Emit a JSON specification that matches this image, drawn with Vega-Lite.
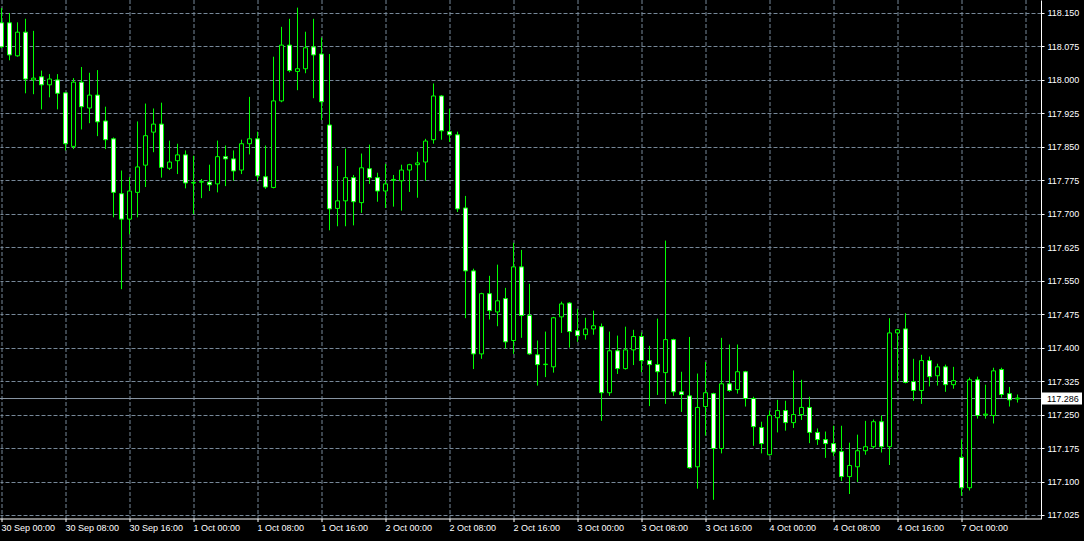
{
"$schema": "https://vega.github.io/schema/vega-lite/v6.json",
"width": 1041,
"height": 519,
"autosize": {"type": "none"},
"padding": {"left": 0, "top": 0, "right": 43, "bottom": 22},
"background": "#000000",
"config": {"view": {"stroke": null}, "font": "Liberation Sans", "scale": {"continuousPadding": 0}},
"datasets": {
"bars": [
{"i":0,"o":118.128,"h":118.161,"l":118.072,"c":118.074},
{"i":1,"o":118.128,"h":118.150,"l":118.044,"c":118.056},
{"i":2,"o":118.054,"h":118.129,"l":118.052,"c":118.107},
{"i":3,"o":118.107,"h":118.137,"l":117.970,"c":118.002},
{"i":4,"o":118.000,"h":118.110,"l":117.968,"c":118.004},
{"i":5,"o":118.007,"h":118.021,"l":117.934,"c":117.989},
{"i":6,"o":117.989,"h":118.013,"l":117.961,"c":118.002},
{"i":7,"o":118.000,"h":118.013,"l":117.934,"c":117.970},
{"i":8,"o":117.971,"h":117.972,"l":117.842,"c":117.857},
{"i":9,"o":117.851,"h":118.004,"l":117.845,"c":117.995},
{"i":10,"o":117.995,"h":118.029,"l":117.889,"c":117.940},
{"i":11,"o":117.937,"h":118.016,"l":117.903,"c":117.966},
{"i":12,"o":117.966,"h":118.022,"l":117.874,"c":117.906},
{"i":13,"o":117.908,"h":117.940,"l":117.845,"c":117.866},
{"i":14,"o":117.868,"h":117.871,"l":117.692,"c":117.748},
{"i":15,"o":117.745,"h":117.797,"l":117.531,"c":117.688},
{"i":16,"o":117.688,"h":117.782,"l":117.654,"c":117.751},
{"i":17,"o":117.748,"h":117.907,"l":117.692,"c":117.805},
{"i":18,"o":117.809,"h":117.947,"l":117.760,"c":117.875},
{"i":19,"o":117.883,"h":117.936,"l":117.838,"c":117.901},
{"i":20,"o":117.901,"h":117.949,"l":117.781,"c":117.804},
{"i":21,"o":117.802,"h":117.864,"l":117.798,"c":117.816},
{"i":22,"o":117.819,"h":117.857,"l":117.789,"c":117.832},
{"i":23,"o":117.832,"h":117.842,"l":117.757,"c":117.769},
{"i":24,"o":117.769,"h":117.830,"l":117.699,"c":117.770},
{"i":25,"o":117.771,"h":117.778,"l":117.735,"c":117.772},
{"i":26,"o":117.771,"h":117.810,"l":117.751,"c":117.765},
{"i":27,"o":117.767,"h":117.864,"l":117.748,"c":117.828},
{"i":28,"o":117.828,"h":117.853,"l":117.762,"c":117.823},
{"i":29,"o":117.823,"h":117.842,"l":117.774,"c":117.796},
{"i":30,"o":117.798,"h":117.866,"l":117.789,"c":117.857},
{"i":31,"o":117.857,"h":117.962,"l":117.833,"c":117.868},
{"i":32,"o":117.868,"h":117.884,"l":117.773,"c":117.785},
{"i":33,"o":117.783,"h":117.853,"l":117.756,"c":117.760},
{"i":34,"o":117.759,"h":118.052,"l":117.757,"c":117.953},
{"i":35,"o":117.953,"h":118.119,"l":117.950,"c":118.078},
{"i":36,"o":118.078,"h":118.137,"l":118.017,"c":118.021},
{"i":37,"o":118.019,"h":118.162,"l":117.977,"c":118.025},
{"i":38,"o":118.025,"h":118.108,"l":118.015,"c":118.072},
{"i":39,"o":118.074,"h":118.137,"l":117.959,"c":118.056},
{"i":40,"o":118.058,"h":118.095,"l":117.910,"c":117.951},
{"i":41,"o":117.899,"h":118.058,"l":117.663,"c":117.711},
{"i":42,"o":117.712,"h":117.807,"l":117.672,"c":117.729},
{"i":43,"o":117.729,"h":117.846,"l":117.672,"c":117.781},
{"i":44,"o":117.781,"h":117.787,"l":117.674,"c":117.727},
{"i":45,"o":117.725,"h":117.835,"l":117.702,"c":117.803},
{"i":46,"o":117.801,"h":117.855,"l":117.767,"c":117.781},
{"i":47,"o":117.781,"h":117.792,"l":117.727,"c":117.751},
{"i":48,"o":117.751,"h":117.812,"l":117.713,"c":117.767},
{"i":49,"o":117.775,"h":117.787,"l":117.716,"c":117.777},
{"i":50,"o":117.774,"h":117.810,"l":117.707,"c":117.798},
{"i":51,"o":117.798,"h":117.812,"l":117.749,"c":117.810},
{"i":52,"o":117.810,"h":117.839,"l":117.736,"c":117.814},
{"i":53,"o":117.816,"h":117.868,"l":117.774,"c":117.863},
{"i":54,"o":117.866,"h":117.992,"l":117.857,"c":117.964},
{"i":55,"o":117.964,"h":117.966,"l":117.866,"c":117.886},
{"i":56,"o":117.884,"h":117.935,"l":117.861,"c":117.877},
{"i":57,"o":117.877,"h":117.884,"l":117.704,"c":117.711},
{"i":58,"o":117.713,"h":117.740,"l":117.466,"c":117.572},
{"i":59,"o":117.572,"h":117.577,"l":117.352,"c":117.386},
{"i":60,"o":117.386,"h":117.523,"l":117.375,"c":117.521},
{"i":61,"o":117.521,"h":117.561,"l":117.463,"c":117.483},
{"i":62,"o":117.480,"h":117.586,"l":117.448,"c":117.505},
{"i":63,"o":117.510,"h":117.534,"l":117.398,"c":117.413},
{"i":64,"o":117.416,"h":117.635,"l":117.386,"c":117.581},
{"i":65,"o":117.581,"h":117.619,"l":117.422,"c":117.472},
{"i":66,"o":117.472,"h":117.543,"l":117.384,"c":117.386},
{"i":67,"o":117.384,"h":117.416,"l":117.315,"c":117.362},
{"i":68,"o":117.362,"h":117.436,"l":117.334,"c":117.363},
{"i":69,"o":117.357,"h":117.469,"l":117.344,"c":117.467},
{"i":70,"o":117.469,"h":117.503,"l":117.433,"c":117.498},
{"i":71,"o":117.500,"h":117.502,"l":117.400,"c":117.436},
{"i":72,"o":117.438,"h":117.487,"l":117.413,"c":117.427},
{"i":73,"o":117.429,"h":117.467,"l":117.418,"c":117.442},
{"i":74,"o":117.442,"h":117.483,"l":117.429,"c":117.449},
{"i":75,"o":117.447,"h":117.454,"l":117.236,"c":117.299},
{"i":76,"o":117.299,"h":117.436,"l":117.292,"c":117.393},
{"i":77,"o":117.393,"h":117.427,"l":117.341,"c":117.353},
{"i":78,"o":117.353,"h":117.447,"l":117.351,"c":117.395},
{"i":79,"o":117.395,"h":117.440,"l":117.361,"c":117.425},
{"i":80,"o":117.425,"h":117.434,"l":117.345,"c":117.371},
{"i":81,"o":117.371,"h":117.404,"l":117.269,"c":117.362},
{"i":82,"o":117.362,"h":117.465,"l":117.294,"c":117.346},
{"i":83,"o":117.344,"h":117.640,"l":117.274,"c":117.418},
{"i":84,"o":117.418,"h":117.420,"l":117.292,"c":117.301},
{"i":85,"o":117.301,"h":117.346,"l":117.256,"c":117.295},
{"i":86,"o":117.292,"h":117.424,"l":117.129,"c":117.131},
{"i":87,"o":117.133,"h":117.342,"l":117.084,"c":117.266},
{"i":88,"o":117.268,"h":117.368,"l":117.203,"c":117.299},
{"i":89,"o":117.297,"h":117.299,"l":117.059,"c":117.174},
{"i":90,"o":117.174,"h":117.422,"l":117.163,"c":117.319},
{"i":91,"o":117.319,"h":117.407,"l":117.301,"c":117.304},
{"i":92,"o":117.306,"h":117.407,"l":117.297,"c":117.346},
{"i":93,"o":117.346,"h":117.348,"l":117.268,"c":117.286},
{"i":94,"o":117.286,"h":117.290,"l":117.180,"c":117.223},
{"i":95,"o":117.221,"h":117.234,"l":117.163,"c":117.185},
{"i":96,"o":117.160,"h":117.259,"l":117.158,"c":117.248},
{"i":97,"o":117.243,"h":117.283,"l":117.210,"c":117.259},
{"i":98,"o":117.259,"h":117.281,"l":117.214,"c":117.232},
{"i":99,"o":117.232,"h":117.349,"l":117.220,"c":117.250},
{"i":100,"o":117.250,"h":117.328,"l":117.238,"c":117.266},
{"i":101,"o":117.266,"h":117.290,"l":117.186,"c":117.210},
{"i":102,"o":117.210,"h":117.219,"l":117.182,"c":117.194},
{"i":103,"o":117.194,"h":117.212,"l":117.153,"c":117.185},
{"i":104,"o":117.185,"h":117.225,"l":117.157,"c":117.166},
{"i":105,"o":117.167,"h":117.225,"l":117.101,"c":117.111},
{"i":106,"o":117.111,"h":117.187,"l":117.072,"c":117.136},
{"i":107,"o":117.133,"h":117.205,"l":117.099,"c":117.169},
{"i":108,"o":117.169,"h":117.236,"l":117.160,"c":117.178},
{"i":109,"o":117.178,"h":117.239,"l":117.174,"c":117.234},
{"i":110,"o":117.234,"h":117.248,"l":117.165,"c":117.178},
{"i":111,"o":117.178,"h":117.466,"l":117.137,"c":117.433},
{"i":112,"o":117.433,"h":117.442,"l":117.324,"c":117.440},
{"i":113,"o":117.442,"h":117.477,"l":117.320,"c":117.322},
{"i":114,"o":117.324,"h":117.375,"l":117.281,"c":117.304},
{"i":115,"o":117.304,"h":117.384,"l":117.274,"c":117.371},
{"i":116,"o":117.371,"h":117.380,"l":117.313,"c":117.335},
{"i":117,"o":117.337,"h":117.364,"l":117.315,"c":117.357},
{"i":118,"o":117.357,"h":117.362,"l":117.301,"c":117.317},
{"i":119,"o":117.317,"h":117.357,"l":117.308,"c":117.326},
{"i":120,"o":117.154,"h":117.194,"l":117.068,"c":117.086},
{"i":121,"o":117.086,"h":117.333,"l":117.080,"c":117.328},
{"i":122,"o":117.328,"h":117.335,"l":117.241,"c":117.248},
{"i":123,"o":117.249,"h":117.317,"l":117.241,"c":117.251},
{"i":124,"o":117.248,"h":117.355,"l":117.230,"c":117.348},
{"i":125,"o":117.351,"h":117.355,"l":117.288,"c":117.295},
{"i":126,"o":117.297,"h":117.312,"l":117.268,"c":117.283},
{"i":127,"o":117.285,"h":117.295,"l":117.277,"c":117.287}
],
"bid": [{"price": 117.286}]
},
"layer": [
{
"data": {"name": "bid"},
"mark": {"type": "rule", "color": "#8a97a5", "strokeWidth": 1},
"encoding": {
"y": {"field": "price", "type": "quantitative",
"scale": {"domain": [117.016, 118.1791], "nice": false, "zero": false, "padding": 0},
"axis": {"orient": "right", "title": null, "values": [117.025,117.1,117.175,117.25,117.325,117.4,117.475,117.55,117.625,117.7,117.775,117.85,117.925,118.0,118.075,118.15], "format": ".3f", "grid": true, "gridColor": "#778899", "gridDash": [4, 2], "gridWidth": 1, "domainColor": "#ffffff", "domainWidth": 1, "tickColor": "#ffffff", "tickSize": 3, "tickWidth": 1, "labelColor": "#ffffff", "labelFont": "Liberation Sans", "labelFontSize": 9, "labelPadding": 3, "labelFlush": false, "labelOverlap": false, "labelBound": false}
}
}
},
{
"data": {"name": "bars"},
"mark": {"type": "rule", "color": "#00ff00", "strokeWidth": 1},
"encoding": {
"x": {"field": "i", "type": "quantitative",
"scale": {"domain": [-0.1875, 129.9375], "nice": false, "zero": false, "padding": 0},
"axis": {
"orient": "bottom",
"title": null,
"values": [0,4,8,12,16,20,24,28,32,36,40,44,48,52,56,60,64,68,72,76,80,84,88,92,96,100,104,108,112,116,120,124,128],
"translate": 0,
"grid": true,
"gridColor": "#778899",
"gridDash": [4, 2],
"gridWidth": 1,
"domainColor": "#ffffff",
"domainWidth": 1,
"tickColor": "#ffffff",
"tickSize": 3,
"tickWidth": 1,
"tickOpacity": {"condition": {"test": "datum.value % 8 !== 0 || datum.value > 120", "value": 0}, "value": 1},
"labelExpr": "(datum.value % 8 === 0 && datum.value <= 120) ? ['30 Sep 00:00','30 Sep 08:00','30 Sep 16:00','1 Oct 00:00','1 Oct 08:00','1 Oct 16:00','2 Oct 00:00','2 Oct 08:00','2 Oct 16:00','3 Oct 00:00','3 Oct 08:00','3 Oct 16:00','4 Oct 00:00','4 Oct 08:00','4 Oct 16:00','7 Oct 00:00'][datum.value / 8] : ''",
"labelAlign": "left",
"labelBaseline": "top",
"labelColor": "#ffffff",
"labelFont": "Liberation Sans",
"labelFontSize": 9,
"labelPadding": 2,
"labelFlush": false,
"labelOverlap": false,
"labelBound": false
}
},
"y": {"field": "l", "type": "quantitative",
"axis": {"orient": "right", "title": null, "values": [117.025,117.1,117.175,117.25,117.325,117.4,117.475,117.55,117.625,117.7,117.775,117.85,117.925,118.0,118.075,118.15], "format": ".3f", "grid": true, "gridColor": "#778899", "gridDash": [4, 2], "gridWidth": 1, "domainColor": "#ffffff", "domainWidth": 1, "tickColor": "#ffffff", "tickSize": 3, "tickWidth": 1, "labelColor": "#ffffff", "labelFont": "Liberation Sans", "labelFontSize": 9, "labelPadding": 3, "labelFlush": false, "labelOverlap": false, "labelBound": false}
},
"y2": {"field": "h"}
}
},
{
"data": {"name": "bars"},
"mark": {"type": "bar", "width": 4, "stroke": "#00ff00", "strokeWidth": 1},
"encoding": {
"x": {"field": "i", "type": "quantitative"},
"y": {"field": "o", "type": "quantitative",
"axis": {"orient": "right", "title": null, "values": [117.025,117.1,117.175,117.25,117.325,117.4,117.475,117.55,117.625,117.7,117.775,117.85,117.925,118.0,118.075,118.15], "format": ".3f", "grid": true, "gridColor": "#778899", "gridDash": [4, 2], "gridWidth": 1, "domainColor": "#ffffff", "domainWidth": 1, "tickColor": "#ffffff", "tickSize": 3, "tickWidth": 1, "labelColor": "#ffffff", "labelFont": "Liberation Sans", "labelFontSize": 9, "labelPadding": 3, "labelFlush": false, "labelOverlap": false, "labelBound": false}
},
"y2": {"field": "c"},
"fill": {"condition": {"test": "datum.c < datum.o", "value": "#ffffff"}, "value": "#000000"}
}
},
{
"data": {"name": "bid"},
"mark": {"type": "point", "shape": "M-1,-0.3L1,-0.3L1,0.3L-1,0.3Z", "size": 1600, "filled": true, "fill": "#ffffff", "opacity": 1, "strokeWidth": 0},
"encoding": {
"x": {"value": {"expr": "width + 21"}},
"y": {"field": "price", "type": "quantitative",
"axis": {"orient": "right", "title": null, "values": [117.025,117.1,117.175,117.25,117.325,117.4,117.475,117.55,117.625,117.7,117.775,117.85,117.925,118.0,118.075,118.15], "format": ".3f", "grid": true, "gridColor": "#778899", "gridDash": [4, 2], "gridWidth": 1, "domainColor": "#ffffff", "domainWidth": 1, "tickColor": "#ffffff", "tickSize": 3, "tickWidth": 1, "labelColor": "#ffffff", "labelFont": "Liberation Sans", "labelFontSize": 9, "labelPadding": 3, "labelFlush": false, "labelOverlap": false, "labelBound": false}
}
}
},
{
"data": {"name": "bid"},
"mark": {"type": "text", "align": "left", "baseline": "middle", "dx": 6, "font": "Liberation Sans", "fontSize": 9, "color": "#000000"},
"encoding": {
"x": {"value": {"expr": "width"}},
"y": {"field": "price", "type": "quantitative",
"axis": {"orient": "right", "title": null, "values": [117.025,117.1,117.175,117.25,117.325,117.4,117.475,117.55,117.625,117.7,117.775,117.85,117.925,118.0,118.075,118.15], "format": ".3f", "grid": true, "gridColor": "#778899", "gridDash": [4, 2], "gridWidth": 1, "domainColor": "#ffffff", "domainWidth": 1, "tickColor": "#ffffff", "tickSize": 3, "tickWidth": 1, "labelColor": "#ffffff", "labelFont": "Liberation Sans", "labelFontSize": 9, "labelPadding": 3, "labelFlush": false, "labelOverlap": false, "labelBound": false}
},
"text": {"field": "price", "type": "quantitative", "format": ".3f"}
}
}
]
}
